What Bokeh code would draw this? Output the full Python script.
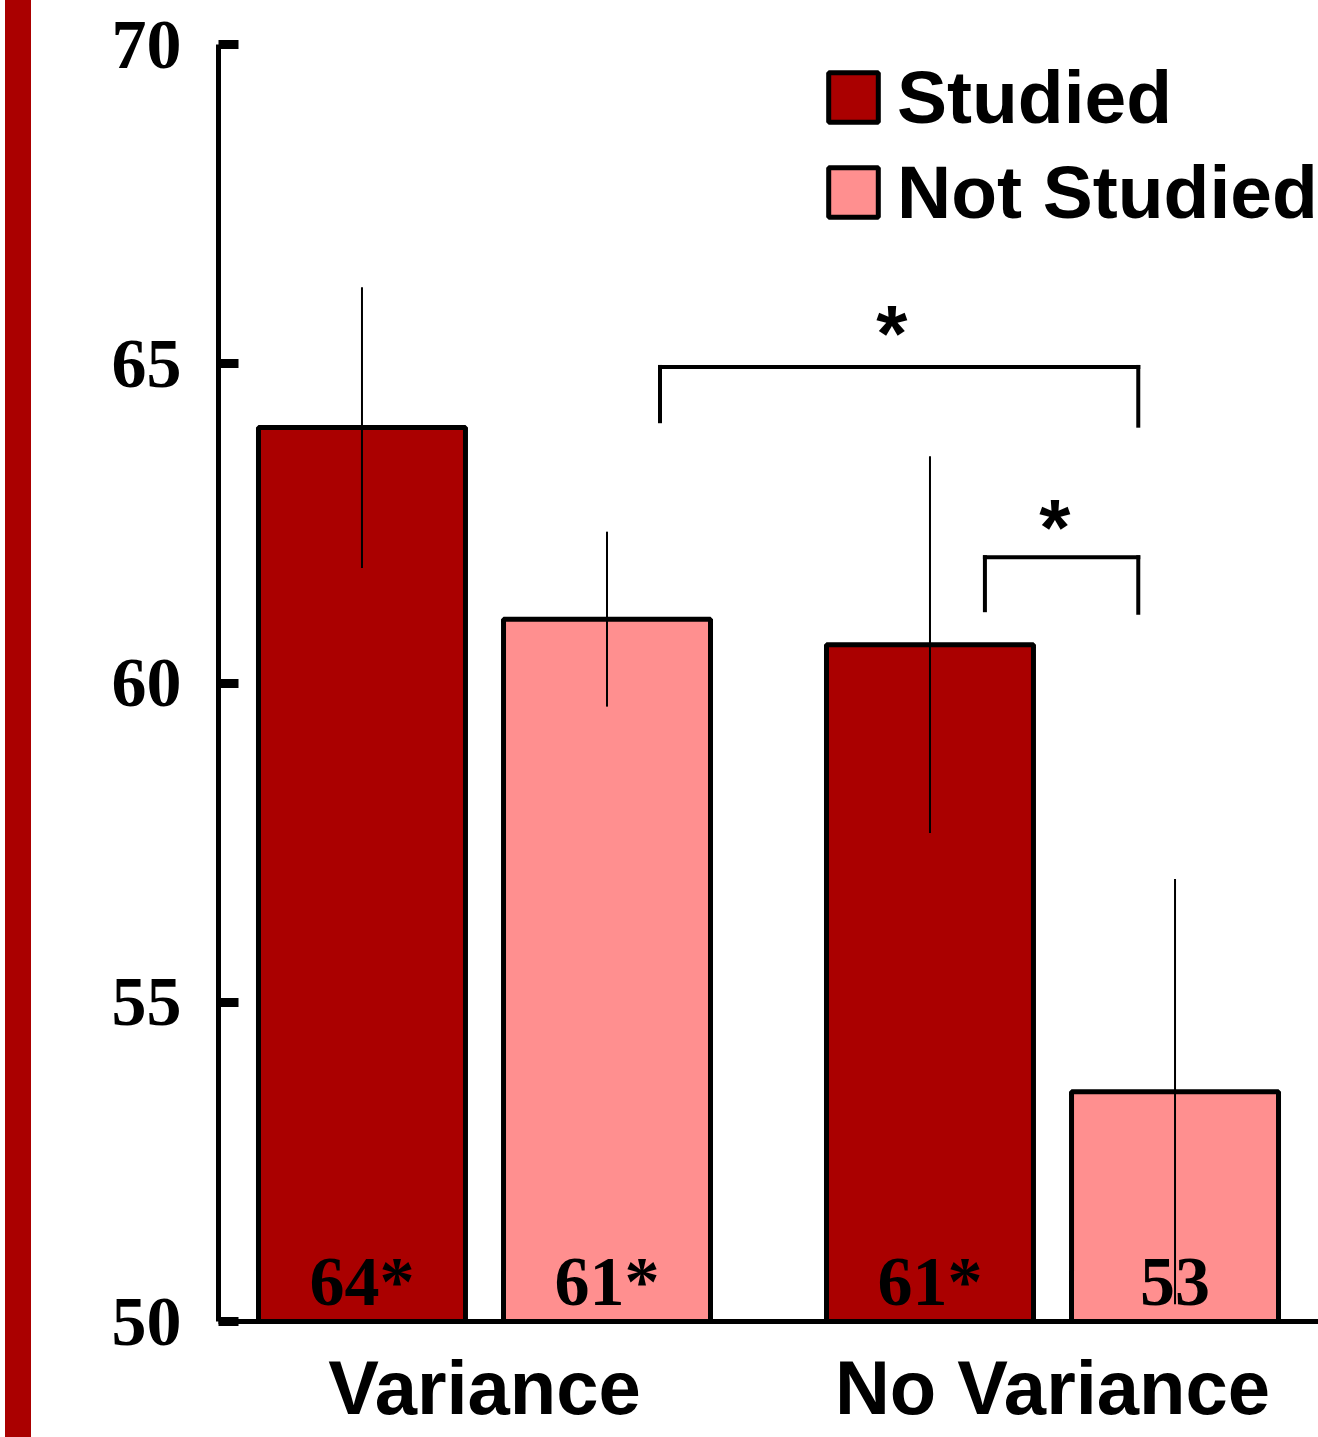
import numpy as np
from bokeh.plotting import figure
from bokeh.models import (ColumnDataSource, FactorRange, FixedTicker, LabelSet,
                          Legend, LegendItem, Div)
from bokeh.transform import dodge
from bokeh.layouts import row
from bokeh.core.properties import value
from bokeh.embed import file_html
from bokeh.resources import INLINE

# ---------------- data ----------------
groups = ["Variance", "No Variance"]
series_names = ["Studied", "Not Studied"]
studied = [64.0, 60.6]
not_studied = [61.0, 53.6]
studied_err = [2.2, 2.95]
not_studied_err = [1.37, 3.33]
studied_labels = ["64*", "61*"]
not_studied_labels = ["61*", "53"]
y_ticks = [50, 55, 60, 65, 70]

# significance brackets (annotations)
bracket_left = [("Variance", 0.309), ("No Variance", -0.119)]
bracket_right = [("No Variance", 0.151), ("No Variance", 0.151)]
bracket_top = [64.95, 61.97]
bracket_left_end = [64.1, 61.14]
bracket_right_end = [64.03, 61.1]
star_x = [("Variance", 0.717), ("No Variance", 0.004)]
star_y = [65.47, 62.44]
star_text = ["*", "*"]

# ---------------- style ----------------
DARK = "#AA0000"
PINK = "#FF8F8F"
SERIF = "Liberation Serif"
SANS = "Liberation Sans"
OFF = 0.2157
BAR_W = 0.3644

x_range = FactorRange(factors=groups, range_padding=-0.0317,
                      range_padding_units="absolute")
p = figure(x_range=x_range, y_range=(y_ticks[0], y_ticks[-1]),
           width=1287, height=1437, output_backend="svg", toolbar_location=None,
           min_border_left=187, min_border_right=0, min_border_top=44,
           min_border_bottom=116)
p.xgrid.visible = False
p.ygrid.visible = False
p.outline_line_color = None
p.background_fill_color = "white"
p.border_fill_color = "white"

s_lo = (np.array(studied) - np.array(studied_err)).tolist()
s_hi = (np.array(studied) + np.array(studied_err)).tolist()
n_lo = (np.array(not_studied) - np.array(not_studied_err)).tolist()
n_hi = (np.array(not_studied) + np.array(not_studied_err)).tolist()

src = ColumnDataSource(dict(group=groups, studied=studied, not_studied=not_studied,
                            s_lo=s_lo, s_hi=s_hi, n_lo=n_lo, n_hi=n_hi,
                            s_lab=studied_labels, n_lab=not_studied_labels))

r1 = p.vbar(x=dodge("group", -OFF, range=p.x_range), top="studied", bottom=y_ticks[0],
            width=BAR_W, source=src, fill_color=DARK, line_color="black", line_width=5)
r2 = p.vbar(x=dodge("group", OFF, range=p.x_range), top="not_studied", bottom=y_ticks[0],
            width=BAR_W, source=src, fill_color=PINK, line_color="black", line_width=5)

p.segment(x0=dodge("group", -OFF, range=p.x_range), y0="s_lo",
          x1=dodge("group", -OFF, range=p.x_range), y1="s_hi",
          source=src, line_color="black", line_width=2)
p.segment(x0=dodge("group", OFF, range=p.x_range), y0="n_lo",
          x1=dodge("group", OFF, range=p.x_range), y1="n_hi",
          source=src, line_color="black", line_width=2)

for col, off in (("s_lab", -OFF), ("n_lab", OFF)):
    p.add_layout(LabelSet(x=dodge("group", off, range=p.x_range), y=y_ticks[0], text=col,
                          source=src, text_align="center", text_baseline="alphabetic",
                          y_offset=17, text_font=value(SERIF), text_font_style="bold",
                          text_font_size="70px", text_color="black"))

# brackets
bsrc = ColumnDataSource(dict(
    x0=bracket_left + bracket_left + bracket_right,
    x1=bracket_left + bracket_right + bracket_right,
    y0=bracket_left_end + bracket_top + bracket_top,
    y1=bracket_top + bracket_top + bracket_right_end,
))
p.segment(x0="x0", y0="y0", x1="x1", y1="y1", source=bsrc, line_color="black",
          line_width=4, line_cap="square")
ssrc = ColumnDataSource(dict(x=star_x, y=star_y, t=star_text))
p.text(x="x", y="y", text="t", source=ssrc, text_font=value(SANS), text_font_style="bold",
       text_font_size="80px", text_align="center", text_baseline="middle", text_color="black")

# legend
legend = Legend(items=[LegendItem(label=series_names[0], renderers=[r1]),
                       LegendItem(label=series_names[1], renderers=[r2])],
                location=(604, 1086), glyph_width=62, glyph_height=62, label_standoff=13,
                spacing=9, padding=0, margin=0, border_line_color=None,
                background_fill_alpha=0, label_text_font=SANS, label_text_font_style="bold",
                label_text_font_size="75px", label_text_color="black")
p.add_layout(legend)

# axes
p.yaxis.ticker = FixedTicker(ticks=y_ticks)
p.yaxis.major_label_text_font = SERIF
p.yaxis.major_label_text_font_style = "bold"
p.yaxis.major_label_text_font_size = "70px"
p.yaxis.major_label_text_color = "black"
p.yaxis.axis_line_width = 5
p.yaxis.axis_line_color = "black"
p.yaxis.major_tick_line_width = 9
p.yaxis.major_tick_line_color = "black"
p.yaxis.major_tick_in = 20
p.yaxis.major_tick_out = 0
p.yaxis.minor_tick_line_color = None
p.yaxis.major_label_standoff = 37

p.xaxis.axis_line_width = 5
p.xaxis.axis_line_color = "black"
p.xaxis.major_tick_line_color = None
p.xaxis.minor_tick_line_color = None
p.xaxis.major_label_text_font = SANS
p.xaxis.major_label_text_font_style = "bold"
p.xaxis.major_label_text_font_size = "76px"
p.xaxis.major_label_text_color = "black"
p.xaxis.major_label_standoff = 17

stripe = Div(text="", width=26, height=1437, margin=(0, 0, 0, 5),
             styles={"background-color": DARK})
layout = row(stripe, p, spacing=0)

open("out.html", "w").write(file_html(layout, INLINE))
